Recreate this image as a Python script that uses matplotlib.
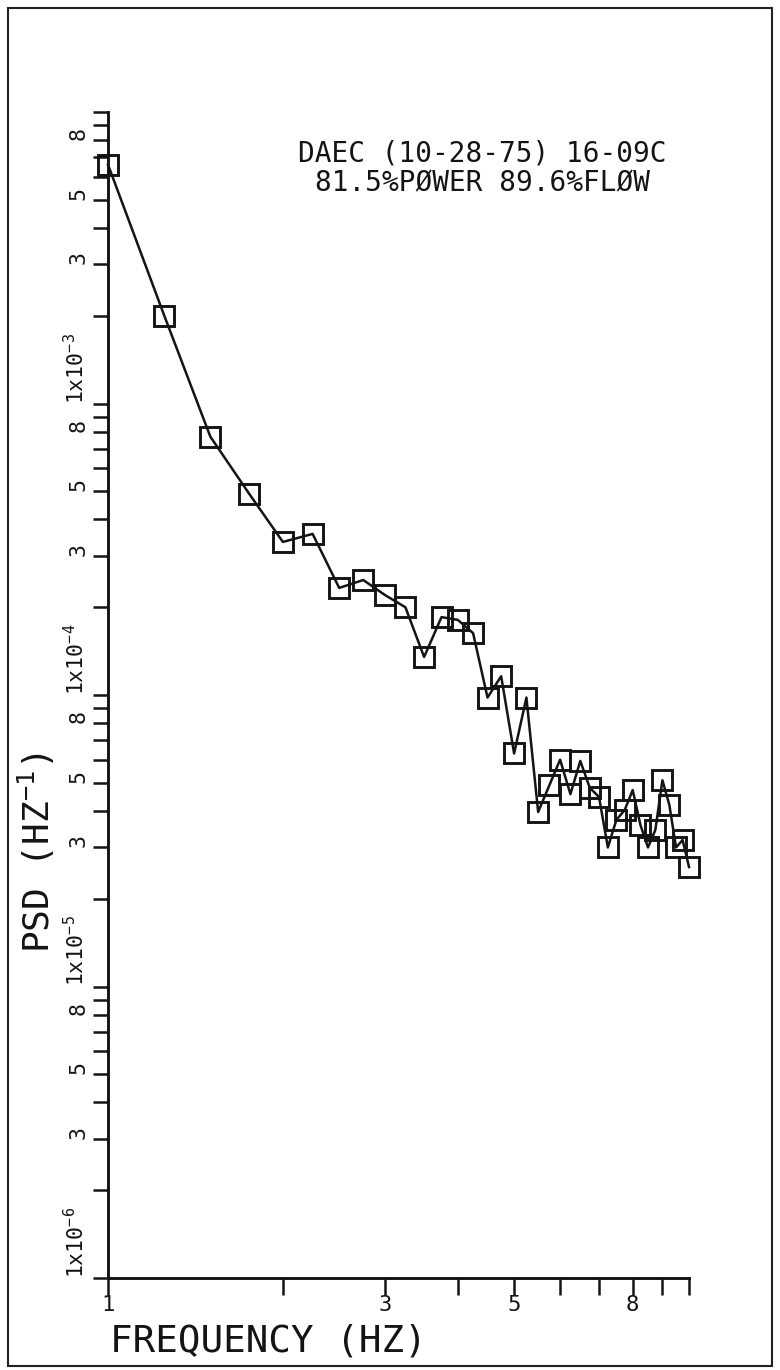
## PSD spectrum on log-log axes, old plotter style
import numpy as np
import matplotlib.pyplot as plt
from matplotlib.patches import Rectangle
from matplotlib.ticker import FixedLocator, FixedFormatter, NullLocator

plt.rcParams['font.family'] = ['DejaVu Sans Mono', 'DejaVu Sans']
plt.rcParams['mathtext.fontset'] = 'custom'
plt.rcParams['mathtext.rm'] = 'DejaVu Sans Mono'

## frequency points (Hz) and the power spectral density at each one
freq = [1.0, 1.25, 1.5, 1.75, 2.0, 2.25, 2.5, 2.75, 3.0, 3.25, 3.5, 3.75,
        4.0, 4.25, 4.5, 4.75, 5.0, 5.25, 5.5, 5.75, 6.0, 6.25, 6.5, 6.75,
        7.0, 7.25, 7.5, 7.75, 8.0, 8.25, 8.5, 8.75, 9.0, 9.25, 9.5, 9.75, 10.0]
psd = [6.6e-3, 2.0e-3, 7.7e-4, 4.9e-4, 3.35e-4, 3.57e-4, 2.33e-4, 2.48e-4,
       2.2e-4, 2.0e-4, 1.35e-4, 1.85e-4, 1.81e-4, 1.63e-4, 9.8e-5, 1.16e-4,
       6.3e-5, 9.8e-5, 3.97e-5, 4.9e-5, 6.0e-5, 4.57e-5, 5.94e-5, 4.8e-5,
       4.47e-5, 3.0e-5, 3.73e-5, 4.03e-5, 4.72e-5, 3.58e-5, 3.0e-5, 3.44e-5,
       5.1e-5, 4.2e-5, 3.0e-5, 3.18e-5, 2.57e-5]

## axis labelling
decade_exps = [-6, -5, -4, -3]
decade_labels = [r'1x10$^{\mathregular{-6}}$', r'1x10$^{\mathregular{-5}}$',
                 r'1x10$^{\mathregular{-4}}$', r'1x10$^{\mathregular{-3}}$']
labelled_digits = {3: '3', 5: '5', 8: '8'}
x_labelled = {1: '1', 3: '3', 5: '5', 8: '8'}
title_lines = ['DAEC (10-28-75) 16-09C', '81.5%PØWER 89.6%FLØW']

ink = '#141414'

fig = plt.figure(figsize=(7.8, 13.7), dpi=100)
ax = fig.add_axes([108 / 780, 92 / 1370, 581 / 780, 1166 / 1370])

ax.loglog(freq, psd, color=ink, lw=1.8, marker='s', ms=15,
          mfc='none', mec=ink, mew=2.1, clip_on=False)

ax.set_xlim(1, 10)
ax.set_ylim(1e-6, 1e-2)

## y ticks: every 1..9 in each decade, labels only on 1, 3, 5, 8
yt, yl = [], []
for k, dl in zip(decade_exps, decade_labels):
    for m in range(1, 10):
        yt.append(m * 10.0 ** k)
        yl.append(dl if m == 1 else labelled_digits.get(m, ''))
yt.append(1e-2)
yl.append('')
ax.yaxis.set_major_locator(FixedLocator(yt))
ax.yaxis.set_major_formatter(FixedFormatter(yl))
ax.yaxis.set_minor_locator(NullLocator())

xt = list(range(1, 11))
ax.xaxis.set_major_locator(FixedLocator(xt))
ax.xaxis.set_major_formatter(FixedFormatter([x_labelled.get(v, '') for v in xt]))
ax.xaxis.set_minor_locator(NullLocator())

ax.tick_params(axis='y', direction='out', length=11, width=1.8, pad=3,
               labelsize=15.5, colors=ink)
ax.tick_params(axis='x', direction='out', length=12, width=1.8, pad=0,
               labelsize=16, colors=ink)
for lab in ax.get_yticklabels():
    lab.set_rotation(90)
    lab.set_va('bottom')
    lab.set_ha('right')

for s in ['top', 'right']:
    ax.spines[s].set_visible(False)
for s in ['left', 'bottom']:
    ax.spines[s].set_linewidth(2.1)
    ax.spines[s].set_color(ink)

ax.set_xlabel('FREQUENCY (HZ)', fontsize=27, color=ink)
ax.xaxis.label.set_ha('left')
ax.xaxis.set_label_coords(0.003, -0.039)
ax.set_ylabel(r'PSD (HZ$^{\mathregular{-1}}$)', fontsize=26, color=ink)
ax.yaxis.set_label_coords(-0.088, 0.365)

ax.text(0.645, 0.976, '\n'.join(title_lines), transform=ax.transAxes,
        ha='center', va='top', fontsize=20, linespacing=1.05, color=ink)

## border round the whole sheet
fig.patches.append(Rectangle((8 / 780, 4 / 1370), 764 / 780, 1358 / 1370,
                             transform=fig.transFigure, fill=False,
                             lw=1.5, ec='#222222'))

fig.savefig('out.png', dpi=100)
